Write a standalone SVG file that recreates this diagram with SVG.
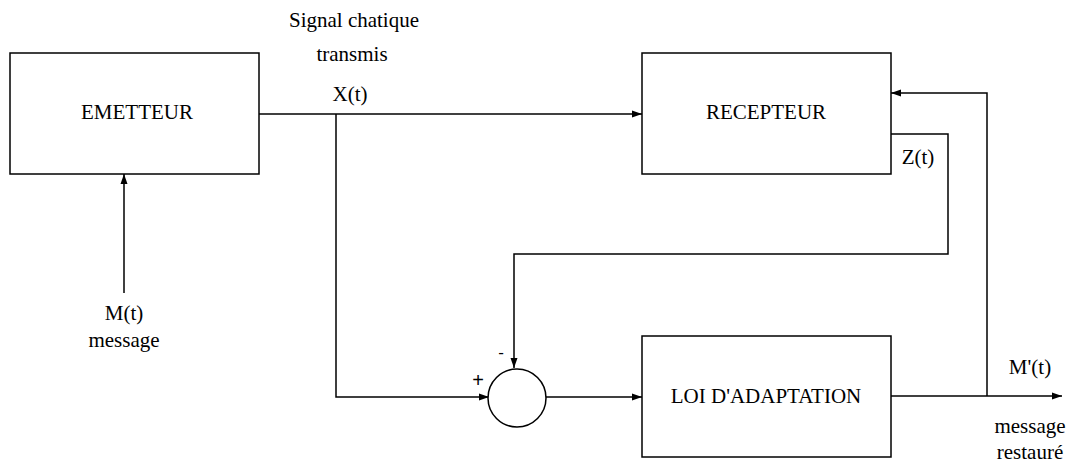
<svg xmlns="http://www.w3.org/2000/svg" width="1071" height="465" viewBox="0 0 1071 465">
<style>
.box{fill:#fff;stroke:#000;stroke-width:1.5}
.ln{fill:none;stroke:#000;stroke-width:1.5}
.t{font-family:'Liberation Serif','Times New Roman',serif;font-size:21px;fill:#000;text-anchor:middle}
.sans{font-family:'Liberation Sans',Arial,sans-serif;fill:#000;text-anchor:middle}
</style>
<defs>
<marker id="ar" viewBox="0 0 10 10" refX="10" refY="5" markerWidth="10" markerHeight="10" markerUnits="userSpaceOnUse" orient="auto">
<path d="M0,1.5 L10,5 L0,8.5 z" fill="#000"/>
</marker>
</defs>
<rect width="1071" height="465" fill="#fff"/>
<g id="connectors">
<path class="ln" d="M259,114 H642" marker-end="url(#ar)"/>
<path class="ln" d="M336,114 V397 H489" marker-end="url(#ar)"/>
<path class="ln" d="M891,134 H948 V254 H514 V368" marker-end="url(#ar)"/>
<path class="ln" d="M546,397 H642" marker-end="url(#ar)"/>
<path class="ln" d="M891,396 H1062" marker-end="url(#ar)"/>
<path class="ln" d="M987,396 V93 H891" marker-end="url(#ar)"/>
<path class="ln" d="M124,293 V174" marker-end="url(#ar)"/>
</g>
<g id="emetteur">
<rect class="box" x="10" y="53" width="249" height="121"/>
<text class="t" x="137" y="119">EMETTEUR</text>
</g>
<g id="recepteur">
<rect class="box" x="642" y="53" width="249" height="121"/>
<text class="t" x="766" y="119">RECEPTEUR</text>
</g>
<g id="loi">
<rect class="box" x="642" y="336" width="249" height="121"/>
<text class="t" x="766" y="403">LOI D'ADAPTATION</text>
</g>
<g id="sommateur">
<circle class="box" cx="517" cy="398" r="29"/>
<text class="sans" font-size="17" x="501" y="358">-</text>
<text class="sans" font-size="20" x="478" y="387">+</text>
</g>
<g id="labels">
<text class="t" x="354" y="27">Signal chatique</text>
<text class="t" x="352" y="61">transmis</text>
<text class="t" x="350" y="101">X(t)</text>
<text class="t" x="918" y="164">Z(t)</text>
<text class="t" x="124" y="320">M(t)</text>
<text class="t" x="124" y="347">message</text>
<text class="t" x="1030" y="374">M'(t)</text>
<text class="t" x="1030" y="433">message</text>
<text class="t" x="1030" y="459">restauré</text>
</g>
</svg>
